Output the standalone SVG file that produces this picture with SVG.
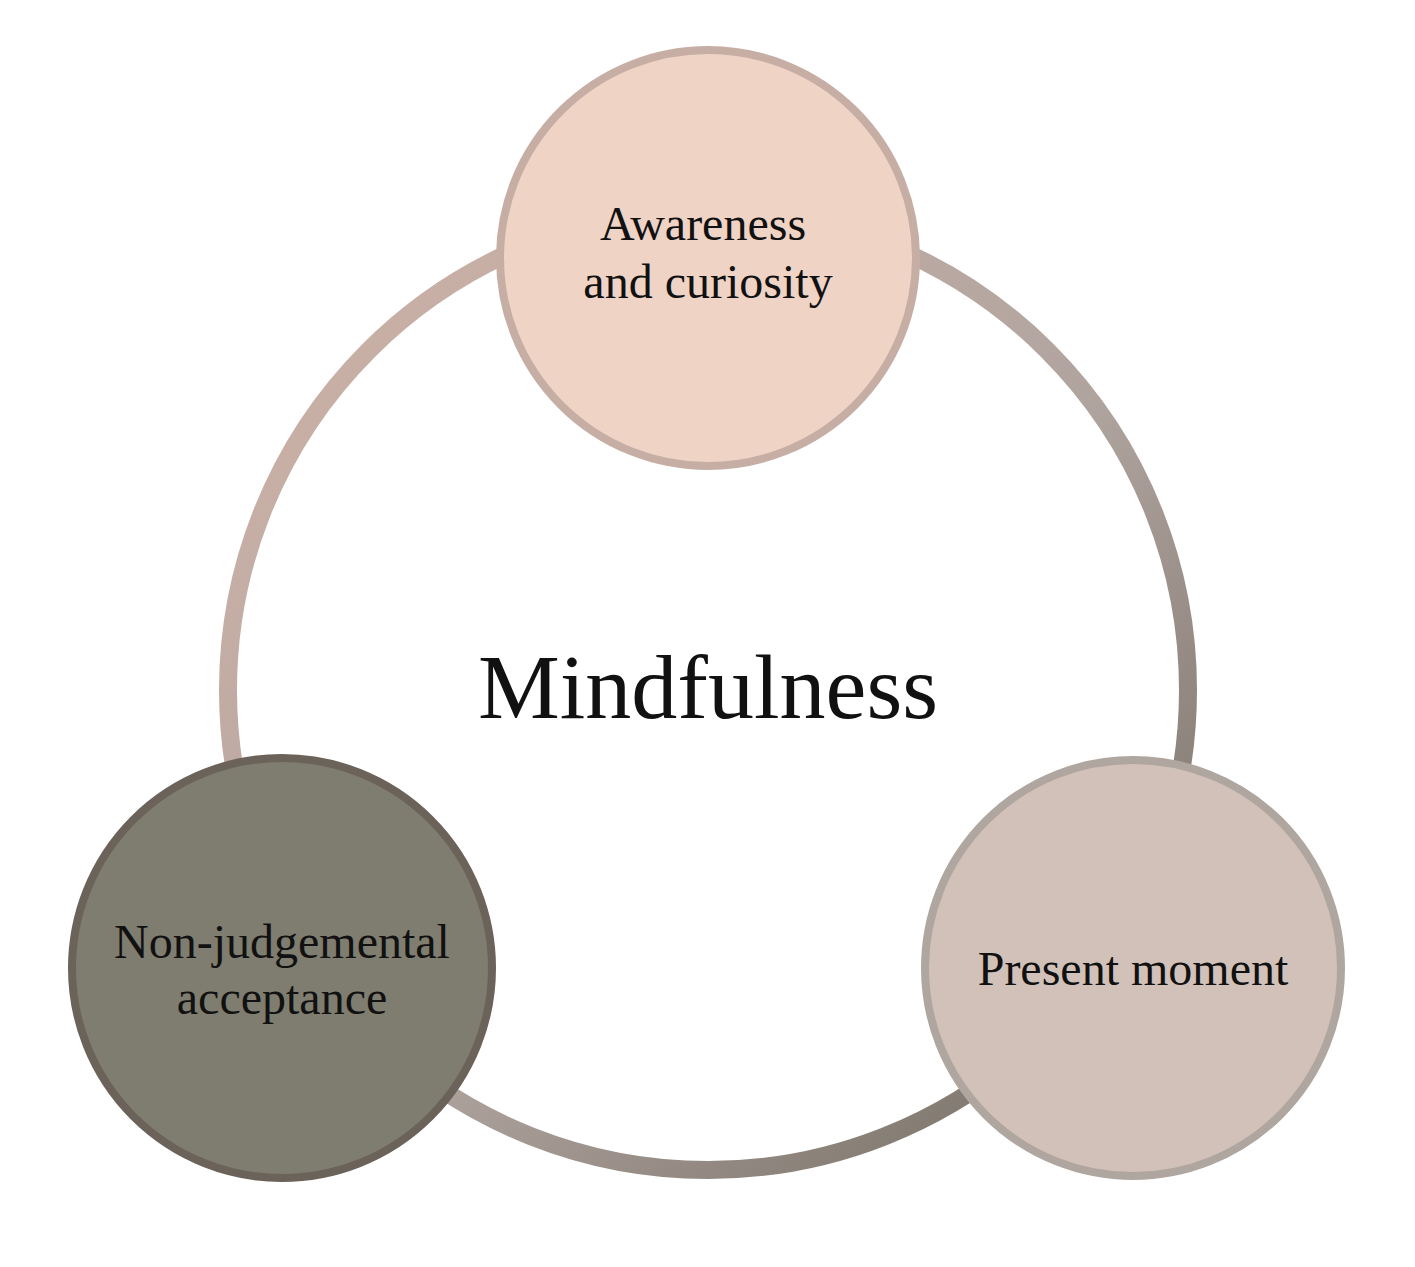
<svg xmlns="http://www.w3.org/2000/svg" width="1415" height="1267" viewBox="0 0 1415 1267">
<defs>
<linearGradient id="ring" x1="0" y1="0" x2="1" y2="1">
<stop offset="0" stop-color="#d0b3a8"/>
<stop offset="0.55" stop-color="#b0a49f"/>
<stop offset="1" stop-color="#6e675d"/>
</linearGradient>
<style>
text{font-family:"Liberation Serif","DejaVu Serif",serif;fill:#111;text-anchor:middle}
.n{font-size:48px}
</style>
</defs>
<rect width="1415" height="1267" fill="#fff"/>
<g id="connectors">
<circle cx="708" cy="690" r="480" fill="none" stroke="url(#ring)" stroke-width="18"/>
</g>
<g id="center"><text x="708" y="718" font-size="92">Mindfulness</text></g>
<g id="awareness">
<circle cx="708" cy="258" r="208" fill="#efd3c5" stroke="#c6aea4" stroke-width="8"/>
<text class="n" x="703" y="240">Awareness</text>
<text class="n" x="708" y="298">and curiosity</text>
</g>
<g id="acceptance">
<circle cx="282" cy="968" r="210" fill="#7f7d6f" stroke="#6b6259" stroke-width="8"/>
<text class="n" x="282" y="958">Non-judgemental</text>
<text class="n" x="282" y="1014">acceptance</text>
</g>
<g id="present">
<circle cx="1133" cy="968" r="208" fill="#d1c1b8" stroke="#b0a6a0" stroke-width="8"/>
<text class="n" x="1133" y="985">Present moment</text>
</g>
</svg>
